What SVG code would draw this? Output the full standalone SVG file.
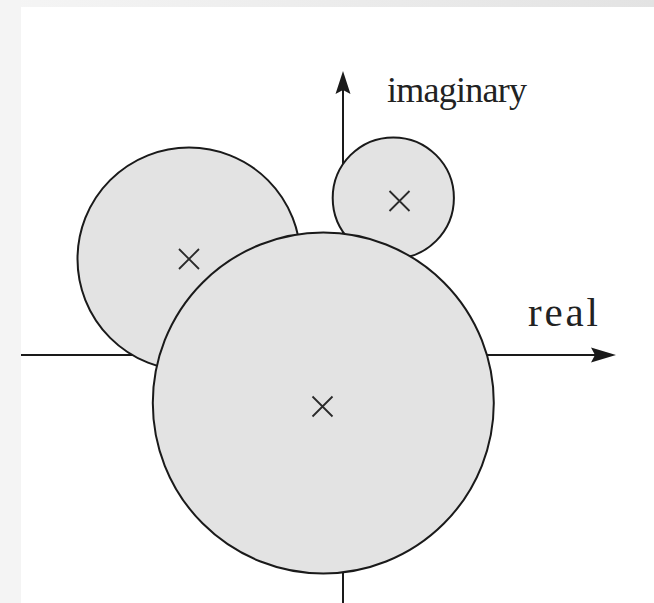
<svg xmlns="http://www.w3.org/2000/svg" width="654" height="603" viewBox="0 0 654 603">
<defs>
<linearGradient id="topg" x1="0" y1="0" x2="1" y2="0">
<stop offset="0" stop-color="#f5f5f5"/>
<stop offset="1" stop-color="#e3e3e3"/>
</linearGradient>
<style>
.axis{stroke:#1a1a1a;stroke-width:2;fill:none}
.head{fill:#1a1a1a;stroke:none}
.disc{fill:#e3e3e3;stroke:#1a1a1a;stroke-width:2}
.cross{stroke:#2a2a2a;stroke-width:1.8;fill:none}
.lbl{font-family:"Liberation Serif","DejaVu Serif",serif;fill:#222}
</style>
</defs>
<rect x="0" y="0" width="654" height="603" fill="#ffffff"/>
<rect x="0" y="0" width="654" height="7" fill="url(#topg)"/>
<rect x="0" y="0" width="21" height="603" fill="#f4f4f4"/>
<g id="axes">
<line class="axis" x1="21" y1="355" x2="596" y2="355"/>
<polygon class="head" points="616,355 591,347.5 595,355 591,362.5"/>
<line class="axis" x1="343" y1="603" x2="343" y2="90"/>
<polygon class="head" points="343,71 335.5,94 343,90 350.5,94"/>
</g>
<g id="circle-upper-left">
<circle class="disc" cx="189" cy="259" r="111.5"/>
<path class="cross" d="M179,249 L199,269 M199,249 L179,269"/>
</g>
<g id="circle-small">
<circle class="disc" cx="393.3" cy="198" r="60.6"/>
<path class="cross" d="M389.5,191 L409.5,211 M409.5,191 L389.5,211"/>
</g>
<g id="circle-big">
<circle class="disc" cx="323.3" cy="403" r="170.5"/>
<path class="cross" d="M312.5,396.5 L332.5,416.5 M332.5,396.5 L312.5,416.5"/>
</g>
<text class="lbl" x="387" y="102" font-size="36" textLength="140">imaginary</text>
<text class="lbl" x="528" y="326" font-size="41" textLength="70">real</text>
</svg>
